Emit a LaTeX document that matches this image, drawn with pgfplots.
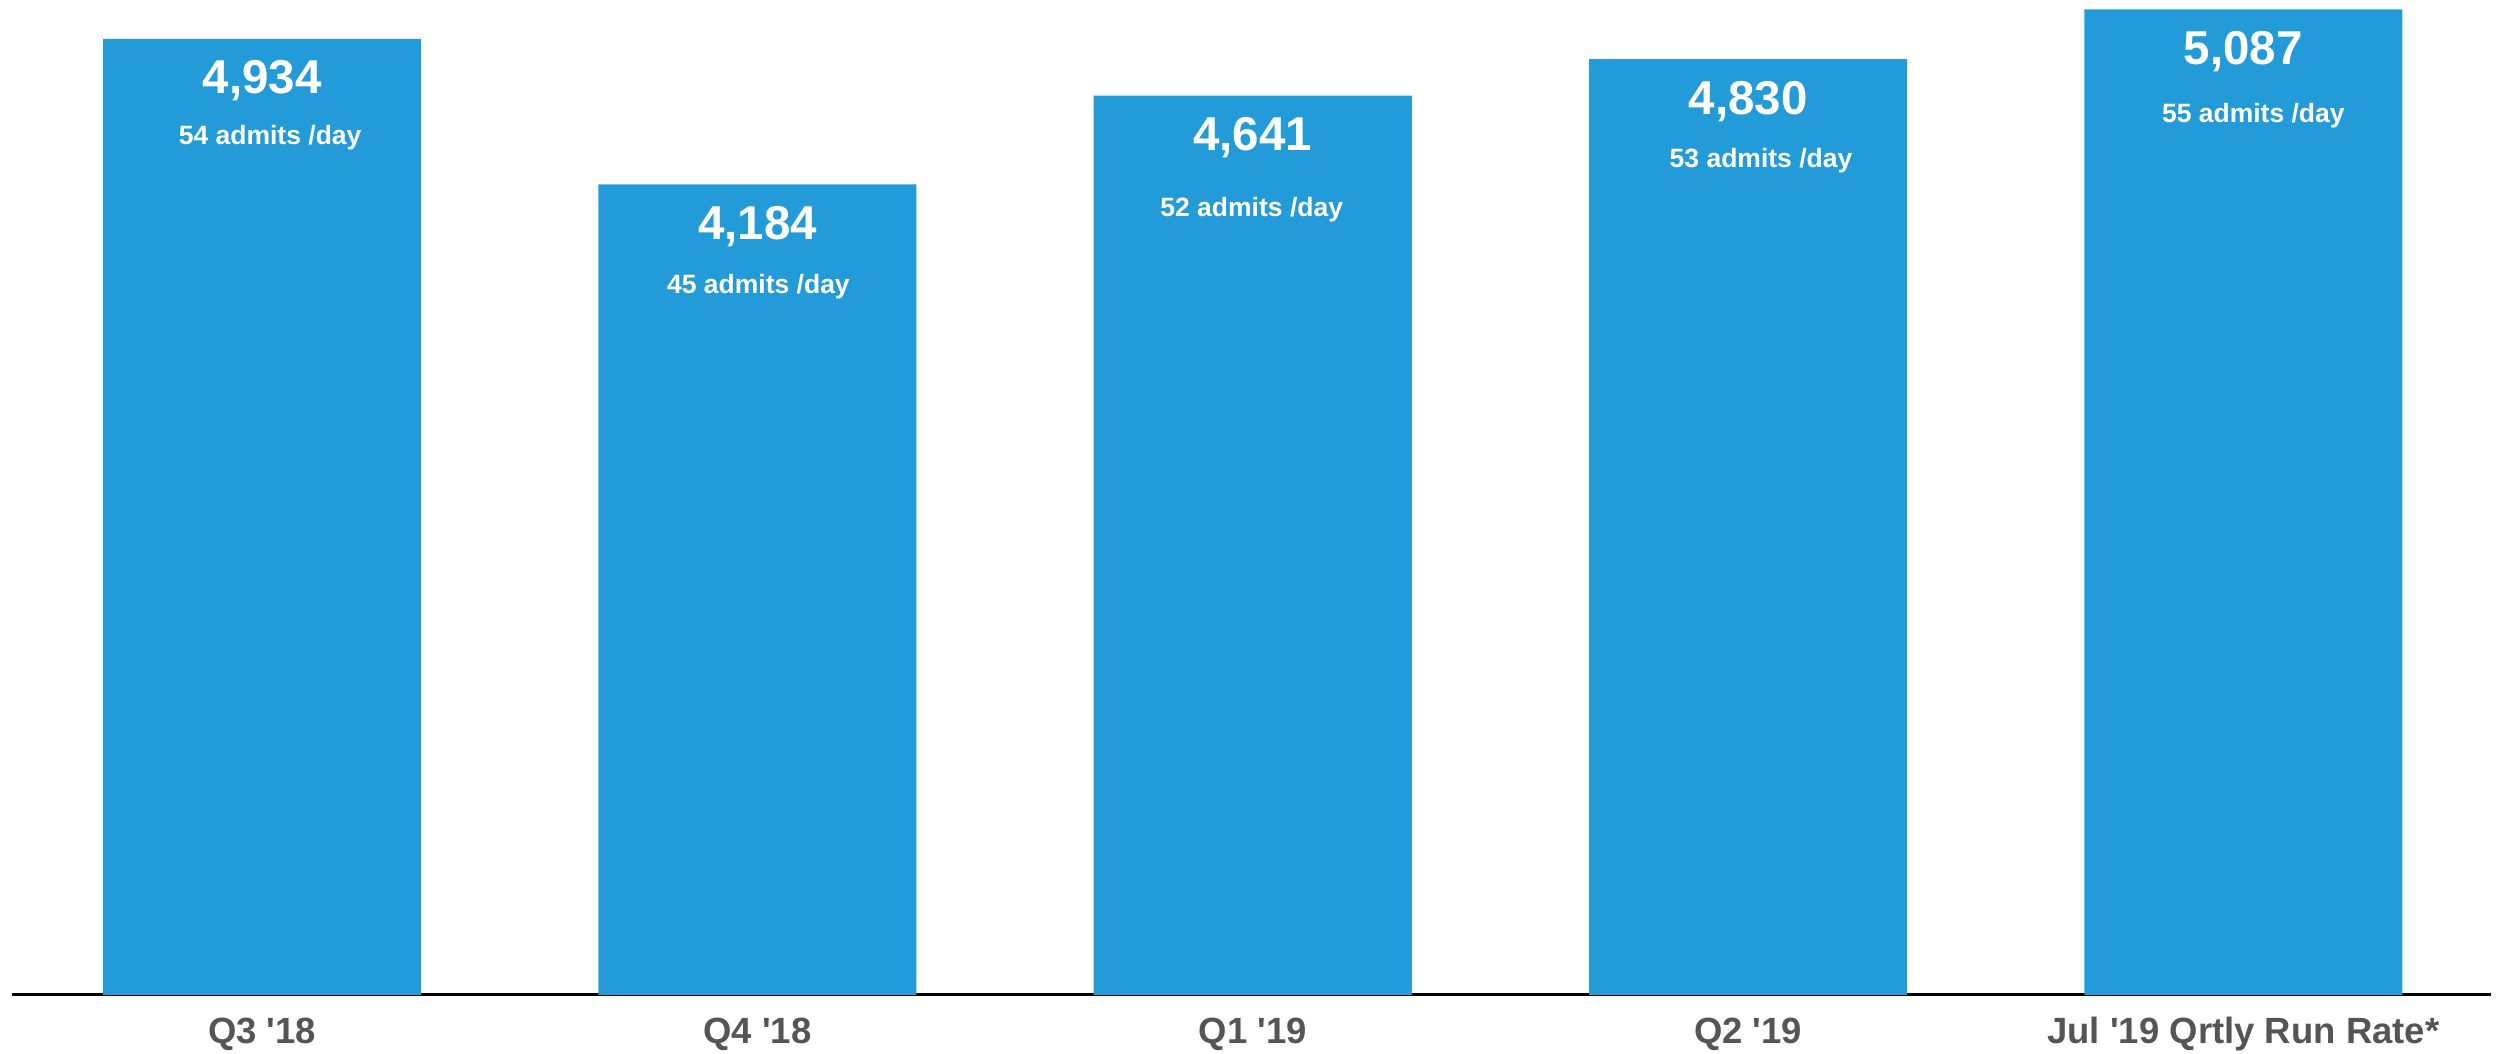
\documentclass[border=0pt]{standalone}
\usepackage{pgfplots}
\pgfplotsset{compat=1.18}
\usepackage{pgfplotstable}
\usepackage{fontspec}
\setmainfont{Liberation Sans}
\definecolor{barblue}{RGB}{34,155,216}
\definecolor{labelgrey}{RGB}{85,85,85}

% x, admissions, admits per day, label offsets (pt)
\pgfplotstableread{
x y rate sx sy
0 4934 54 3.2 42.4
1 4184 45 0.4 43.6
2 4641 52 -0.4 48.4
3 4830 53 5.2 43.2
4 5087 55 4.0 45.2
}\admits

\begin{document}
\begin{tikzpicture}
\begin{axis}[
    scale only axis,
    width=991.6pt,
    height=398pt,
    xmin=-0.505, xmax=4.5,
    ymin=0, ymax=5135,
    axis x line*=bottom,
    axis y line=none,
    x axis line style={black, line width=1.2pt},
    xtick={0,...,4},
    xticklabels={Q3 \textquotesingle18, Q4 \textquotesingle18, Q1 \textquotesingle19, Q2 \textquotesingle19, Jul \textquotesingle19 Qrtly Run Rate*},
    major tick length=0pt,
    xticklabel style={font=\fontsize{14.6}{16}\selectfont\bfseries, text=labelgrey, anchor=base, yshift=-19.6pt},
    clip=false,
]
    \addplot[ybar, bar width=127.2pt, fill=barblue, draw=none]
        table[x=x, y=y] {\admits};
    % totals
    \addplot[draw=none, mark=none,
        point meta=y,
        nodes near coords={\pgfmathprintnumber[fixed, precision=0, 1000 sep={,}, assume math mode=true]{\pgfplotspointmeta}},
        every node near coord/.style={font=\fontsize{19}{19}\selectfont\bfseries, text=white, anchor=base, yshift=-22pt}]
        table[x=x, y=y] {\admits};
    % admits per day
    \addplot[draw=none, mark=none,
        visualization depends on={\thisrow{sx}\as\sx},
        visualization depends on={\thisrow{sy}\as\sy},
        point meta=explicit symbolic,
        nodes near coords={\pgfplotspointmeta\ admits /day},
        every node near coord/.style={font=\fontsize{10.6}{12}\selectfont\bfseries, text=white, anchor=base, xshift=\sx pt, yshift=-\sy pt}]
        table[x=x, y=y, meta=rate] {\admits};
    \coordinate (bl) at (rel axis cs:0,0);
    \coordinate (tr) at (rel axis cs:1,1);
\end{axis}
\pgfresetboundingbox
\path[use as bounding box] ([xshift=-4.8pt, yshift=-23.6pt]bl) rectangle ([xshift=2.8pt]tr);
\end{tikzpicture}
\end{document}
